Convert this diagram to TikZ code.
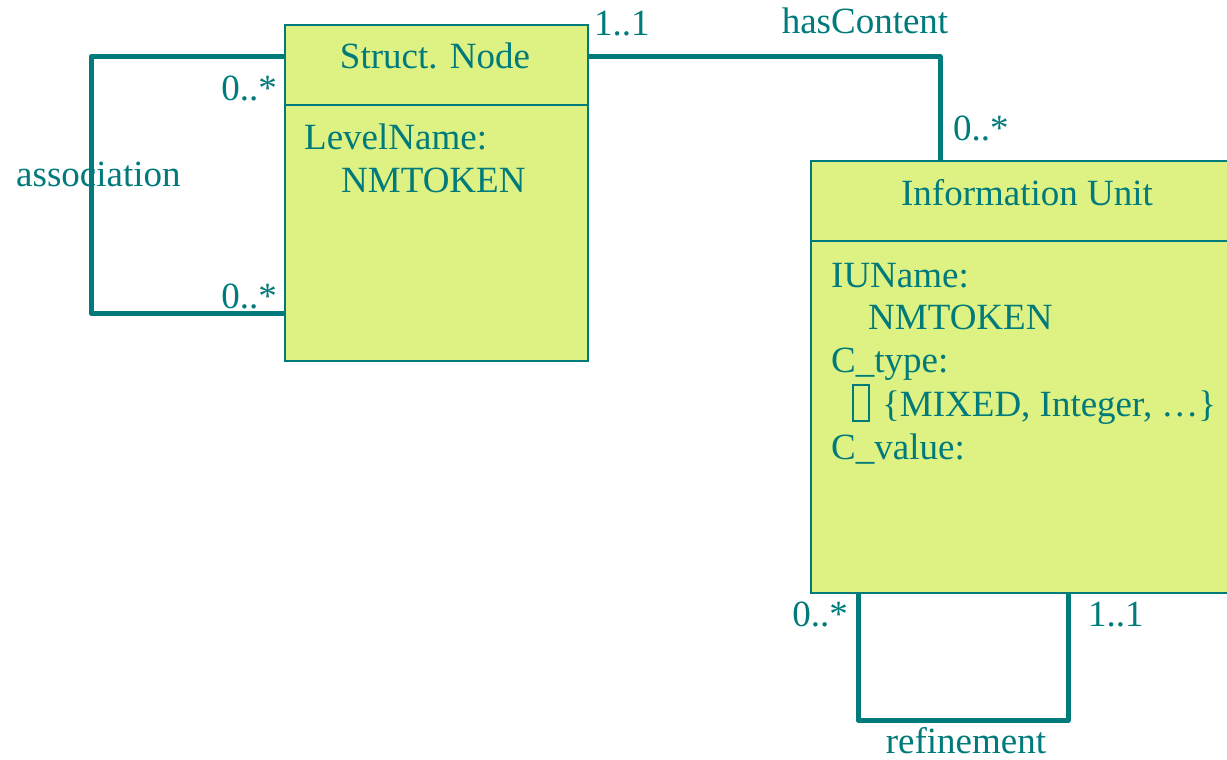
\documentclass[tikz,border=0pt]{standalone}
\usepackage{fontspec}
\setmainfont{Liberation Serif}
\definecolor{teal}{RGB}{0,122,122}
\definecolor{boxfill}{RGB}{221,242,131}
\newcommand\tofubox{\raisebox{-4pt}{\setlength{\fboxsep}{0pt}\setlength{\fboxrule}{2pt}\fbox{\rule{0pt}{34pt}\hspace{14pt}}}}
\tikzset{
  classbox/.style={draw=teal, line width=1.3pt, fill=boxfill, rectangle, inner sep=0pt},
  txt/.style={text=teal, font=\fontsize{37}{44}\selectfont, inner sep=0pt, anchor=base west},
  ctxt/.style={text=teal, font=\fontsize{37}{44}\selectfont, inner sep=0pt, anchor=base},
  rtxt/.style={text=teal, font=\fontsize{37}{44}\selectfont, inner sep=0pt, anchor=base east},
  assoc/.style={draw=teal, line width=5pt, line join=round},
  divider/.style={draw=teal, line width=1.3pt}
}
\begin{document}
\begin{tikzpicture}[x=1pt,y=-1pt]
\useasboundingbox (0,0) rectangle (1227,760);
\clip (0,0) rectangle (1227,760);
% Struct. Node
\node[classbox, minimum width=303pt, minimum height=336pt] (sn) at (436.5,193) {};
\draw[divider] (285,105) -- (588,105);
\node[ctxt] (snt) at (435,69) {Struct. Node};
\node[txt] (sna) at (304,149) {LevelName:};
\node[txt] (snb) at (341,192) {NMTOKEN};
% Information Unit
\node[classbox, minimum width=440pt, minimum height=432pt] (iu) at (1031,377) {};
\draw[divider] (811,241) -- (1250,241);
\node[ctxt] (iut) at (1027,205) {Information Unit};
\node[txt] (iua) at (831,287) {IUName:};
\node[txt] (iub) at (868,329) {NMTOKEN};
\node[txt] (iuc) at (831,372) {C\_type:};
\node[txt] (iud) at (852,416) {\tofubox\hspace{12pt}\{MIXED, Integer, \ldots\}};
\node[txt] (iue) at (831,459) {C\_value:};
% association
\node[txt] (asl) at (16,186) {association};
\coordinate (a1) at (285,57);
\coordinate (a2) at (285,313);
\draw[assoc] (a1) -- (91,57) -- (91,313) -- (a2);
\node[rtxt] (am1) at (277,100) {0..*};
\node[rtxt] (am2) at (277,308) {0..*};
% hasContent
\coordinate (h1) at (588,57);
\coordinate (h2) at (940,161);
\draw[assoc] (h1) -- (940,57) -- (h2);
\node[txt] (hm1) at (594,36) {1..1};
\node[ctxt] (hl) at (865,34) {hasContent};
\node[txt] (hm2) at (953,140) {0..*};
% refinement
\coordinate (r1) at (858,593);
\coordinate (r2) at (1068,593);
\draw[assoc] (r1) -- (858,720) -- (1068,720) -- (r2);
\node[rtxt] (rm1) at (848,626) {0..*};
\node[txt] (rm2) at (1088,626) {1..1};
\node[ctxt] (rl) at (966,753) {refinement};
\end{tikzpicture}
\end{document}
